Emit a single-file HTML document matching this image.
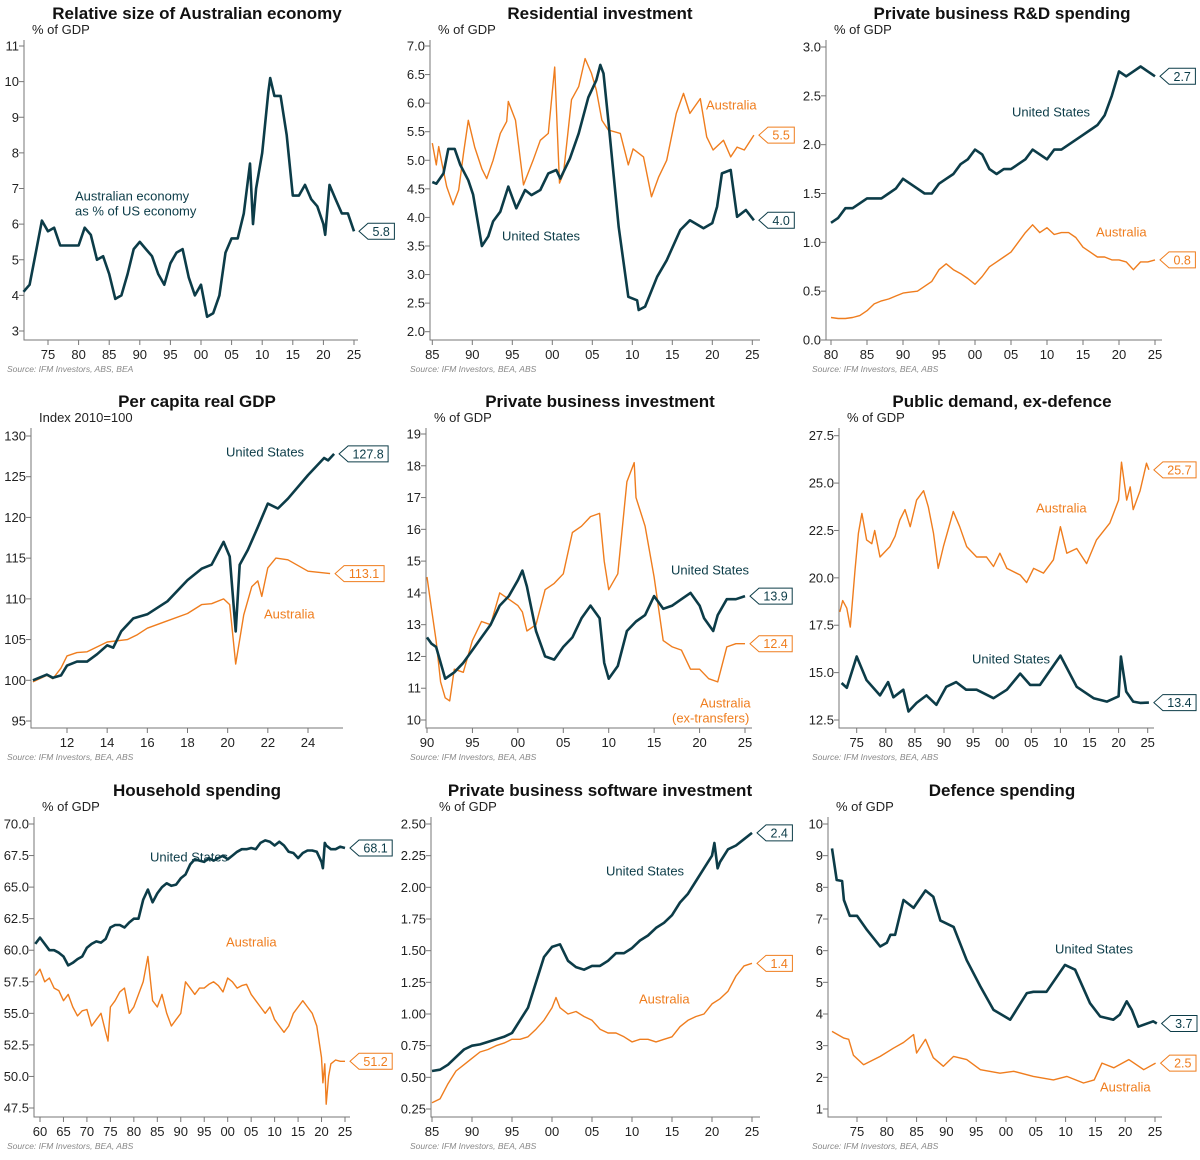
<!DOCTYPE html>
<html><head><meta charset="utf-8"><style>
body{margin:0;background:#fff;}
svg{display:block;font-family:"Liberation Sans",sans-serif;}
</style></head><body>
<svg id="c" width="1200" height="1160"></svg>
<script>
const US='#0c3c48', AU='#ef7d1e';
// ---- data ----
const p1Years=[1971,1972,1973,1974,1975,1976,1977,1978,1979,1980,1981,1982,1983,1984,1985,1986,1987,1988,1989,1990,1991,1992,1993,1994,1995,1996,1997,1998,1999,2000,2001,2002,2003,2004,2005,2006,2007,2008,2008.5,2009,2010,2011,2011.3,2012,2013,2014,2015,2016,2017,2018,2019,2020,2020.3,2021,2022,2023,2024,2025];
const p1Aus=[4.1,4.3,5.2,6.1,5.8,5.9,5.4,5.4,5.4,5.4,5.9,5.7,5.0,5.1,4.6,3.9,4.0,4.6,5.3,5.5,5.3,5.1,4.6,4.3,4.9,5.2,5.3,4.5,4.0,4.3,3.4,3.5,4.0,5.2,5.6,5.6,6.3,7.7,6.0,7.0,8.0,9.7,10.1,9.6,9.6,8.5,6.8,6.8,7.1,6.7,6.5,6.0,5.7,7.1,6.7,6.3,6.3,5.8];
const p2YearsUS=[1985,1985.5,1986.4,1987,1987.8,1988.5,1989.5,1990.1,1991.2,1992,1992.6,1993.5,1994.5,1995.5,1996.6,1997.4,1998.5,1999.5,2000.5,2001,2002.2,2003.3,2004.5,2005.5,2006,2006.4,2007,2008.3,2009.5,2010.6,2010.8,2011.6,2013.1,2014.3,2016,2017.2,2018.9,2020,2020.6,2021.2,2022.3,2023.1,2024.2,2025.2];
const p2US=[4.62,4.59,4.77,5.2,5.2,4.92,4.65,4.4,3.5,3.67,3.93,4.1,4.54,4.16,4.48,4.39,4.48,4.77,4.83,4.68,5.03,5.47,6.1,6.4,6.67,6.52,5.7,3.83,2.61,2.55,2.38,2.44,2.96,3.25,3.78,3.95,3.81,3.9,4.19,4.77,4.83,4.01,4.13,3.95];
const p2YearsAus=[1985,1985.5,1985.8,1986.2,1986.8,1987.6,1988.3,1988.9,1989.5,1990.3,1991.2,1991.8,1992.6,1993.5,1994.3,1994.5,1995.4,1996.4,1997.6,1998.5,1999.5,2000.3,2000.9,2001.4,2002.4,2003.3,2004.1,2004.9,2005.5,2006.2,2007,2008.5,2009.5,2010.1,2011.4,2012.4,2013.3,2014.3,2015.5,2016.4,2017.2,2018.5,2019.3,2020.1,2021.4,2022.3,2023.1,2024,2025.2];
const p2Aus=[5.3,4.92,5.24,4.95,4.54,4.22,4.48,5.12,5.7,5.23,4.85,4.68,5.0,5.47,5.68,6.03,5.7,4.57,5.0,5.35,5.47,6.63,4.6,4.77,6.06,6.29,6.78,6.52,6.23,5.7,5.53,5.47,4.92,5.2,5.06,4.36,4.71,5.0,5.82,6.17,5.82,6.08,5.41,5.18,5.35,5.06,5.23,5.18,5.44];
const p3Years=[1980,1981,1982,1983,1984,1985,1986,1987,1988,1989,1990,1991,1992,1993,1994,1995,1996,1997,1998,1999,2000,2001,2002,2003,2004,2005,2006,2007,2008,2009,2010,2011,2012,2013,2014,2015,2016,2017,2018,2019,2020,2021,2022,2023,2024,2025];
const p3US=[1.2,1.25,1.35,1.35,1.4,1.45,1.45,1.45,1.5,1.55,1.65,1.6,1.55,1.5,1.5,1.6,1.65,1.7,1.8,1.85,1.95,1.9,1.75,1.7,1.75,1.75,1.8,1.85,1.95,1.9,1.85,1.95,1.95,2.0,2.05,2.1,2.15,2.2,2.3,2.5,2.75,2.7,2.75,2.8,2.75,2.7];
const p3Aus=[0.23,0.22,0.22,0.23,0.25,0.3,0.37,0.4,0.42,0.45,0.48,0.49,0.5,0.55,0.6,0.72,0.78,0.72,0.68,0.63,0.57,0.65,0.75,0.8,0.85,0.9,1.0,1.1,1.18,1.1,1.15,1.08,1.1,1.1,1.05,0.95,0.9,0.85,0.85,0.82,0.82,0.8,0.72,0.8,0.8,0.82];
const p4YearsUS=[2010.3,2011,2011.3,2011.7,2012,2012.5,2013,2013.5,2014,2014.3,2014.7,2015.3,2016,2017,2018,2018.7,2019.2,2019.8,2020.1,2020.4,2020.6,2021,2021.5,2022,2022.5,2023,2024,2024.5,2024.8,2025,2025.3];
const p4US=[100,100.7,100.3,100.6,101.8,102.3,102.3,103.2,104.3,104,106,107.6,108.1,109.7,112.3,113.7,114.2,117,115.2,106,114.2,116,118.8,121.7,121.1,122.3,125.2,126.5,127.3,127,127.8];
const p4YearsAus=[2010.3,2011,2011.3,2011.7,2012,2012.5,2013,2014,2015,2015.5,2016,2017,2018,2018.7,2019.2,2019.8,2020.1,2020.4,2020.8,2021.2,2021.5,2021.7,2022,2022.4,2023,2024,2025.1];
const p4Aus=[99.8,100.6,100.2,101.5,103,103.4,103.5,104.7,105,105.6,106.4,107.3,108.2,109.3,109.4,110,109.3,102,108,111.5,112.2,110.3,113.8,115,114.8,113.4,113.1];
const p5YearsUS=[1990,1990.5,1991,1992,1993,1994,1995,1996,1997,1998,1999,2000,2000.5,2001,2002,2003,2004,2005,2006,2007,2008,2009,2009.5,2010,2011,2012,2013,2014,2015,2016,2017,2018,2019,2020,2020.5,2021.5,2022,2023,2024,2025];
const p5US=[12.6,12.4,12.3,11.3,11.5,11.8,12.2,12.6,13.0,13.6,13.9,14.4,14.7,14.2,12.8,12.0,11.9,12.3,12.6,13.2,13.6,13.2,11.8,11.3,11.7,12.8,13.1,13.3,13.9,13.5,13.6,13.8,14.0,13.6,13.2,12.8,13.3,13.8,13.8,13.9];
const p5YearsAus=[1990,1990.5,1991,1991.5,1992,1992.5,1993,1994,1995,1996,1997,1998,1999,2000,2000.5,2001,2002,2003,2004,2005,2006,2007,2008,2009,2009.5,2010,2011,2012,2012.8,2013,2014,2015,2016,2017,2018,2019,2020,2021,2022,2023,2024,2025];
const p5Aus=[14.5,13.5,12.5,11.2,10.7,10.6,11.6,11.5,12.5,13.1,13.0,14.0,13.8,13.6,13.4,12.8,13.0,14.1,14.3,14.6,15.9,16.1,16.4,16.5,15.0,14.1,14.6,17.5,18.1,17.0,16.1,14.5,12.5,12.3,12.2,11.6,11.6,11.3,11.2,12.3,12.4,12.4];
const p6YearsAus=[1972.1,1972.6,1973.3,1973.9,1974.7,1975.3,1975.9,1976.7,1977.6,1978.1,1979,1980.7,1981.6,1982.4,1983.3,1984.2,1985.3,1986.5,1987.3,1988.2,1989,1989.9,1991.6,1992.7,1993.9,1995.6,1997.3,1998.5,1999.6,2000.8,2003.1,2004.2,2005.4,2007.1,2008.8,2010,2011.1,2012.8,2014.5,2016.2,2018.5,2020,2020.5,2021.4,2022,2022.5,2023.7,2024.8,2025.2];
const p6Aus=[18.2,18.8,18.4,17.4,20.4,22.35,23.4,22,21.8,22.5,21.1,21.65,22.2,23.05,23.6,22.7,24.1,24.6,23.75,22.35,20.5,21.65,23.5,22.7,21.65,21.1,21.1,20.6,21.3,20.5,20.15,19.75,20.5,20.25,20.95,22.7,21.3,21.55,20.75,22,22.9,24.1,26.1,24.1,24.8,23.6,24.6,26.05,25.7];
const p6YearsUS=[1972.4,1973.3,1975,1976.7,1979,1980.4,1981.3,1983,1983.9,1985.3,1987,1988.7,1990.4,1992.1,1993.8,1995.6,1998.5,2000.8,2003.1,2004.8,2006.5,2010,2012.8,2015.7,2018,2020,2020.4,2021.3,2022.5,2023.7,2025.2];
const p6US=[14.45,14.2,15.85,14.6,13.8,14.5,13.7,14.1,12.95,13.4,13.8,13.3,14.25,14.5,14.1,14.1,13.65,14.1,14.95,14.35,14.35,15.9,14.25,13.65,13.47,13.75,15.85,14.0,13.47,13.4,13.42];
const p7YearsUS=[1959,1960,1961,1962,1963,1964,1965,1966,1967,1968,1969,1970,1971,1972,1973,1974,1975,1976,1977,1978,1979,1980,1981,1982,1983,1984,1985,1986,1987,1988,1989,1990,1991,1992,1993,1994,1995,1996,1997,1998,1999,2000,2001,2002,2003,2004,2005,2006,2007,2008,2009,2010,2011,2012,2013,2014,2015,2016,2017,2018,2019,2020,2020.3,2020.7,2021,2022,2023,2024,2025];
const p7US=[60.5,61,60.5,60,60,59.8,59.5,58.8,59,59.3,59.5,60.2,60.5,60.7,60.6,60.9,61.8,62,62,61.8,62.2,62.5,62.5,64,64.8,63.8,64.5,65,65.3,65.1,65.2,65.7,66,66.8,67.2,67.1,67,67.3,67.1,67.3,67.5,67.2,67.5,67.8,68,68,68.1,68,68.5,68.7,68.6,68.3,68.6,68.3,67.8,67.7,67.3,67.7,67.9,67.9,67.8,67,66.5,68.5,68.3,68,68,68.2,68.1];
const p7YearsAus=[1959,1960,1961,1962,1963,1964,1965,1966,1967,1968,1969,1970,1971,1972,1973,1974,1974.5,1975,1976,1977,1978,1979,1980,1981,1982,1983,1984,1985,1986,1987,1988,1989,1990,1991,1992,1993,1994,1995,1996,1997,1998,1999,2000,2001,2002,2003,2004,2005,2006,2007,2008,2009,2010,2011,2012,2013,2014,2015,2016,2017,2018,2019,2020,2020.3,2020.7,2021,2021.5,2022,2023,2024,2025];
const p7Aus=[58,58.5,57.5,57.8,57,56.8,56,56.5,55.5,54.8,55.2,55.3,54,54.5,55,53.5,52.8,55.5,56,56.7,57,55,55.5,56.5,57.5,59.5,56,55.5,56.5,55,54,54.5,55,57.5,57,56.5,57,57,57.3,57.5,57.2,56.7,57.8,57.5,57,57.2,57.3,56.5,56,55.5,55,55.5,54.5,54,53.5,54,55,55.5,56,55.5,55,54,51.5,49.5,51,47.8,50,51,51.3,51.2,51.2];
const p8YearsUS=[1985,1986,1987,1988,1989,1990,1991,1992,1993,1994,1995,1996,1997,1998,1999,2000,2001,2002,2003,2004,2005,2006,2007,2008,2009,2010,2011,2012,2013,2014,2015,2016,2017,2018,2019,2020,2020.3,2020.7,2021,2022,2023,2024,2025];
const p8US=[0.55,0.56,0.6,0.66,0.72,0.75,0.76,0.78,0.8,0.82,0.85,0.95,1.05,1.25,1.45,1.53,1.55,1.42,1.37,1.35,1.38,1.38,1.42,1.48,1.48,1.52,1.58,1.62,1.68,1.72,1.78,1.88,1.95,2.05,2.15,2.25,2.35,2.15,2.2,2.3,2.33,2.38,2.43];
const p8YearsAus=[1985,1986,1987,1988,1989,1990,1991,1992,1993,1994,1995,1996,1997,1998,1999,2000,2000.5,2001,2002,2003,2004,2005,2006,2007,2008,2009,2010,2011,2012,2013,2014,2015,2016,2017,2018,2019,2020,2021,2022,2023,2024,2025];
const p8Aus=[0.3,0.33,0.45,0.55,0.6,0.65,0.7,0.72,0.75,0.77,0.8,0.8,0.82,0.88,0.95,1.05,1.13,1.05,1.0,1.02,0.98,0.95,0.88,0.85,0.85,0.82,0.78,0.8,0.8,0.78,0.8,0.82,0.9,0.95,0.98,1.0,1.08,1.12,1.18,1.3,1.38,1.4];
const p9YearsUS=[1970.8,1971.6,1972.5,1972.8,1973.8,1975,1976.7,1978.9,1980,1980.6,1981.4,1982.8,1984.5,1986.5,1987.8,1989,1991.2,1993.4,1995.7,1997.9,2000.7,2003.5,2004.6,2006.8,2009.9,2011.6,2014.1,2015.8,2018,2019.1,2020.25,2021.1,2022.2,2024.7,2025.3];
const p9US=[9.23,8.23,8.2,7.6,7.1,7.1,6.65,6.13,6.25,6.5,6.5,7.6,7.35,7.9,7.7,6.95,6.75,5.7,4.87,4.13,3.82,4.66,4.7,4.7,5.55,5.4,4.34,3.92,3.82,3.98,4.4,4.13,3.6,3.77,3.7];
const p9YearsAus=[1970.8,1972.8,1973.6,1974.4,1976.1,1978.9,1981.1,1982.8,1984.5,1985,1986.5,1987.8,1989.5,1991.2,1993.4,1995.7,1999,2001.3,2004.6,2007.96,2010.2,2013,2014.8,2016.1,2018.1,2020.6,2023.1,2025.1];
const p9Aus=[3.45,3.24,3.2,2.7,2.4,2.66,2.92,3.1,3.35,2.77,3.2,2.62,2.35,2.66,2.56,2.24,2.13,2.19,2.03,1.92,2.03,1.82,1.92,2.45,2.3,2.56,2.24,2.45];

const p1Ticks=['3','4','5','6','7','8','9','10','11'];
const p2Ticks=['2.0','2.5','3.0','3.5','4.0','4.5','5.0','5.5','6.0','6.5','7.0'];
const p3Ticks=['0.0','0.5','1.0','1.5','2.0','2.5','3.0'];
const p4Ticks=['95','100','105','110','115','120','125','130'];
const p5Ticks=['10','11','12','13','14','15','16','17','18','19'];
const p6Ticks=['12.5','15.0','17.5','20.0','22.5','25.0','27.5'];
const p7Ticks=['47.5','50.0','52.5','55.0','57.5','60.0','62.5','65.0','67.5','70.0'];
const p8Ticks=['0.25','0.50','0.75','1.00','1.25','1.50','1.75','2.00','2.25','2.50'];
const p9Ticks=['1','2','3','4','5','6','7','8','9','10'];

const svg=document.getElementById('c');
const NS='http://www.w3.org/2000/svg';
function mk(tag,attrs,parent){const e=document.createElementNS(NS,tag);for(const k in attrs)e.setAttribute(k,attrs[k]);(parent||svg).appendChild(e);return e;}
function txt(s,attrs,parent){const e=mk('text',attrs,parent);e.textContent=s;return e;}

const panels=[
 {name:'relative-size',title:'Relative size of Australian economy',unit:'% of GDP',src:'Source: IFM Investors, ABS, BEA',cx:197,row:0,ax:24,xr:358,x1:[1975,48],x2:[2025,354],y1:[11,46],y2:[3,331],ticks:p1Ticks,xt:[1975,2025,5],
  series:[{n:'australia-share',c:US,w:2.6,x:p1Years,y:p1Aus,lbl:'5.8'}],
  notes:[['Australian economy',75,196,US],['as % of US economy',75,211,US]]},
 {name:'residential-investment',title:'Residential investment',unit:'% of GDP',src:'Source: IFM Investors, BEA, ABS',cx:600,row:0,ax:430,xr:760,x1:[1985,432.3],x2:[2025,752.3],y1:[7,46],y2:[2,331.7],ticks:p2Ticks,xt:[1985,2025,5],
  series:[{n:'australia',c:AU,w:1.4,x:p2YearsAus,y:p2Aus,lbl:'5.5'},{n:'united-states',c:US,w:2.6,x:p2YearsUS,y:p2US,lbl:'4.0'}],
  notes:[['Australia',706,105,AU],['United States',502,236,US]]},
 {name:'rd-spending',title:'Private business R&D spending',unit:'% of GDP',src:'Source: IFM Investors, BEA, ABS',cx:1002,row:0,ax:826,xr:1162,x1:[1980,831],x2:[2025,1155],y1:[3,47],y2:[0,340],ticks:p3Ticks,xt:[1980,2025,5],
  series:[{n:'australia',c:AU,w:1.4,x:p3Years,y:p3Aus,lbl:'0.8'},{n:'united-states',c:US,w:2.6,x:p3Years,y:p3US,lbl:'2.7'}],
  notes:[['United States',1012,112,US],['Australia',1096,232,AU]]},
 {name:'per-capita-gdp',title:'Per capita real GDP',unit:'Index 2010=100',src:'Source: IFM Investors, BEA, ABS',cx:197,row:388,ax:31,xr:343,x1:[2012,67],x2:[2024,308],y1:[130,436],y2:[95,721],ticks:p4Ticks,xt:[2012,2024,2],
  series:[{n:'australia',c:AU,w:1.4,x:p4YearsAus,y:p4Aus,lbl:'113.1'},{n:'united-states',c:US,w:2.6,x:p4YearsUS,y:p4US,lbl:'127.8'}],
  notes:[['United States',226,452,US],['Australia',264,614,AU]]},
 {name:'business-investment',title:'Private business investment',unit:'% of GDP',src:'Source: IFM Investors, BEA, ABS',cx:600,row:388,ax:426,xr:752,x1:[1990,427],x2:[2025,745],y1:[19,434],y2:[10,720],ticks:p5Ticks,xt:[1990,2025,5],
  series:[{n:'australia',c:AU,w:1.4,x:p5YearsAus,y:p5Aus,lbl:'12.4'},{n:'united-states',c:US,w:2.6,x:p5YearsUS,y:p5US,lbl:'13.9'}],
  notes:[['United States',671,570,US],['Australia',700,703,AU],['(ex-transfers)',672,718,AU]]},
 {name:'public-demand',title:'Public demand, ex-defence',unit:'% of GDP',src:'Source: IFM Investors, BEA, ABS',cx:1002,row:388,ax:839,xr:1154,x1:[1975,856.7],x2:[2025,1147.7],y1:[27.5,435.7],y2:[12.5,720],ticks:p6Ticks,xt:[1975,2025,5],
  series:[{n:'australia',c:AU,w:1.4,x:p6YearsAus,y:p6Aus,lbl:'25.7'},{n:'united-states',c:US,w:2.6,x:p6YearsUS,y:p6US,lbl:'13.4'}],
  notes:[['Australia',1036,508,AU],['United States',972,659,US]]},
 {name:'household-spending',title:'Household spending',unit:'% of GDP',src:'Source: IFM Investors, BEA, ABS',cx:197,row:777,ax:34,xr:350,x1:[1960,40],x2:[2025,345],y1:[70,824],y2:[47.5,1108],ticks:p7Ticks,xt:[1960,2025,5],
  series:[{n:'australia',c:AU,w:1.4,x:p7YearsAus,y:p7Aus,lbl:'51.2'},{n:'united-states',c:US,w:2.6,x:p7YearsUS,y:p7US,lbl:'68.1'}],
  notes:[['United States',150,857,US],['Australia',226,942,AU]]},
 {name:'software-investment',title:'Private business software investment',unit:'% of GDP',src:'Source: IFM Investors, BEA, ABS',cx:600,row:777,ax:431,xr:760,x1:[1985,432],x2:[2025,752],y1:[2.5,824],y2:[0.25,1109],ticks:p8Ticks,xt:[1985,2025,5],
  series:[{n:'australia',c:AU,w:1.4,x:p8YearsAus,y:p8Aus,lbl:'1.4'},{n:'united-states',c:US,w:2.6,x:p8YearsUS,y:p8US,lbl:'2.4'}],
  notes:[['United States',606,871,US],['Australia',639,999,AU]]},
 {name:'defence-spending',title:'Defence spending',unit:'% of GDP',src:'Source: IFM Investors, BEA, ABS',cx:1002,row:777,ax:828,xr:1162,x1:[1975,857],x2:[2025,1155],y1:[10,824],y2:[1,1109],ticks:p9Ticks,xt:[1975,2025,5],
  series:[{n:'australia',c:AU,w:1.4,x:p9YearsAus,y:p9Aus,lbl:'2.5'},{n:'united-states',c:US,w:2.6,x:p9YearsUS,y:p9US,lbl:'3.7'}],
  notes:[['United States',1055,949,US],['Australia',1100,1087,AU]]}
];

panels.forEach(p=>{
  const g=mk('g',{});
  
  
  const X=v=>p.x1[1]+(v-p.x1[0])*(p.x2[1]-p.x1[1])/(p.x2[0]-p.x1[0]);
  const Y=v=>p.y1[1]+(v-p.y1[0])*(p.y2[1]-p.y1[1])/(p.y2[0]-p.y1[0]);
  const base=p.row+340;
  const t=txt(p.title,{x:p.cx,y:p.row+19,'text-anchor':'middle','font-size':17,'font-weight':'bold',fill:'#111'},g);
  
  
  const u=txt(p.unit,{x:p.ax+8,y:p.row+34,'font-size':13,fill:'#222'},g);
  
  
  const axis=mk('path',{d:`M${p.ax},${p.row+40}V${base}H${p.xr}`,stroke:'#777',fill:'none','stroke-width':1},g);
  
  
  p.ticks.forEach(s=>{
    const v=parseFloat(s), y=Y(v);
    mk('line',{x1:p.ax-5,x2:p.ax,y1:y,y2:y,stroke:'#777'},g);
    const l=txt(s,{x:p.ax-5,y:y+4.5,'text-anchor':'end','font-size':13,fill:'#222'},g);
    
    
  });
  for(let yr=p.xt[0];yr<=p.xt[1];yr+=p.xt[2]){
    const x=X(yr);
    mk('line',{x1:x,x2:x,y1:base,y2:base+5,stroke:'#777'},g);
    const l=txt(String(yr%100).padStart(2,'0'),{x:x,y:base+19,'text-anchor':'middle','font-size':13,fill:'#222'},g);
    
    
  }
  const sr=txt(p.src,{x:p.cx-190,y:p.row+372,'font-size':8.5,'font-style':'italic',fill:'#888'},g);
  
  
  p.series.forEach(s=>{
    const d=s.x.map((yr,i)=>(i?'L':'M')+X(yr).toFixed(1)+','+Y(s.y[i]).toFixed(1)).join('');
    const path=mk('path',{d:d,stroke:s.c,'stroke-width':s.w,fill:'none','stroke-linejoin':'round'},g);
    
    
    const w=s.lbl.length*6.8+6;
    let lx=X(s.x[s.x.length-1])+5;
    if(lx+9+w>1197) lx=1197-9-w;
    const ly=Y(s.y[s.y.length-1]);
    const b=mk('path',{d:`M${lx},${ly}L${lx+9},${ly-8}H${lx+9+w}V${ly+8}H${lx+9}Z`,fill:'#fff',stroke:s.c,'stroke-width':1},g);
    
    
    const bt=txt(s.lbl,{x:lx+9+w/2,y:ly+4.5,'text-anchor':'middle','font-size':12.5,fill:s.c},g);
    
    
  });
  p.notes.forEach(n=>{
    const a=txt(n[0],{x:n[1],y:n[2]+4.5,'font-size':13,fill:n[3]},g);
    
    
  });
});
</script>
</body></html>
